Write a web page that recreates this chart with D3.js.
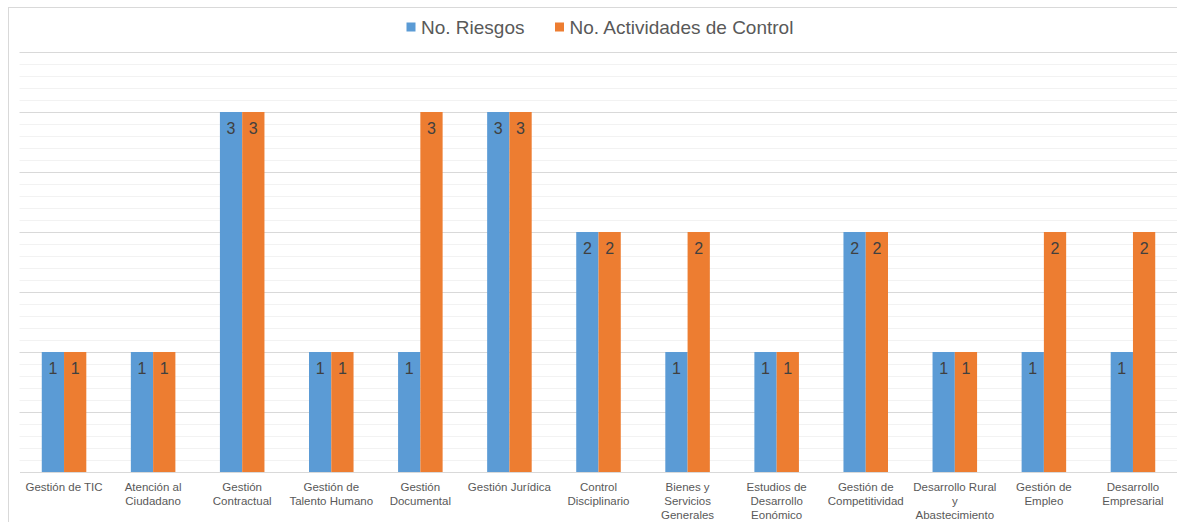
<!DOCTYPE html>
<html>
<head>
<meta charset="utf-8">
<script src="https://cdn.jsdelivr.net/npm/d3@7"></script>
<style>
  body { margin: 0; background: #fff; }
  text { font-family: "Liberation Sans", Arial, sans-serif; }
</style>
</head>
<body>
<script>
// categories (| marks a line break as in the original labels)
let categories = [
  "Gestión de TIC", "Atención al|Ciudadano", "Gestión|Contractual",
  "Gestión de|Talento Humano", "Gestión|Documental", "Gestión Jurídica",
  "Control|Disciplinario", "Bienes y|Servicios|Generales",
  "Estudios de|Desarrollo|Eonómico", "Gestión de|Competitividad",
  "Desarrollo Rural|y|Abastecimiento", "Gestión de|Empleo", "Desarrollo|Empresarial"
];
let seriesNames = ["No. Riesgos", "No. Actividades de Control"];
let riesgos     = [1, 1, 3, 1, 1, 3, 2, 1, 1, 2, 1, 1, 1];
let actividades = [1, 1, 3, 1, 3, 3, 2, 2, 1, 2, 1, 2, 2];
let colors = ["#5b9bd5", "#ed7d31"];

let svgWidth = 1177;
let svgHeight = 522;
let margin = {top: 52, bottom: 50, left: 19.5, right: -0.5};

let svg = d3.select("body")
            .append("svg")
            .attr("width", svgWidth)
            .attr("height", svgHeight);

// chart frame (cut off at right and bottom like the screenshot)
svg.append("rect")
   .attr("x", 8.5).attr("y", 7.5)
   .attr("width", 1200).attr("height", 600)
   .attr("fill", "#fff")
   .attr("stroke", "#d9d9d9");

let x0 = d3.scaleBand()
  .domain(categories)
  .range([margin.left, svgWidth - margin.right]);
let x1 = d3.scaleBand()
  .domain(seriesNames)
  .range([0, x0.bandwidth()])
  .paddingOuter(1);
let y = d3.scaleLinear()
  .domain([0, 3.5])
  .range([svgHeight - margin.bottom, margin.top]);

// minor gridlines
let minor = d3.range(1, 35).filter(i => i % 5 != 0).map(i => i / 10);
svg.append("g")
   .attr("transform", "translate(" + margin.left + ",0)")
   .call(d3.axisLeft(y).tickValues(minor).tickSize(-(svgWidth - margin.left)).tickFormat(""))
   .call(g => g.select(".domain").remove())
   .call(g => g.selectAll(".tick line").attr("stroke", "#f2f2f2"));
// major gridlines
svg.append("g")
   .attr("transform", "translate(" + margin.left + ",0)")
   .call(d3.axisLeft(y).tickValues([0.5, 1, 1.5, 2, 2.5, 3, 3.5]).tickSize(-(svgWidth - margin.left)).tickFormat(""))
   .call(g => g.select(".domain").remove())
   .call(g => g.selectAll(".tick line").attr("stroke", "#d9d9d9"));

// bars
let rows = categories.map((c, i) => ({cat: c, vals: [riesgos[i], actividades[i]]}));
let groups = svg.selectAll("g.cat")
  .data(rows)
  .enter()
  .append("g")
    .attr("class", "cat")
    .attr("transform", d => "translate(" + x0(d.cat) + ",0)");

groups.selectAll("rect")
  .data(d => d.vals.map((v, k) => ({s: seriesNames[k], v: v, k: k})))
  .enter()
  .append("rect")
    .attr("x", d => x1(d.s))
    .attr("y", d => y(d.v))
    .attr("width", x1.bandwidth())
    .attr("height", d => y(0) - y(d.v))
    .attr("fill", d => colors[d.k]);

groups.selectAll("text.val")
  .data(d => d.vals.map((v, k) => ({s: seriesNames[k], v: v, k: k})))
  .enter()
  .append("text")
    .attr("class", "val")
    .attr("x", d => x1(d.s) + x1.bandwidth() / 2)
    .attr("y", d => y(d.v) + 22)
    .attr("text-anchor", "middle")
    .style("font-size", "16px")
    .style("fill", "#404040")
    .text(d => d.v);

// category axis
let xAxis = svg.append("g")
   .attr("transform", "translate(0," + y(0) + ")")
   .call(d3.axisBottom(x0).tickSize(0).tickFormat(""));
xAxis.select(".domain").attr("stroke", "#d9d9d9");

let labels = svg.selectAll("text.cat")
  .data(categories)
  .enter()
  .append("text")
    .attr("class", "cat")
    .attr("x", d => x0(d) + x0.bandwidth() / 2)
    .attr("y", y(0) + 18.5)
    .attr("text-anchor", "middle")
    .style("font-size", "11.5px")
    .style("fill", "#595959");
labels.each(function (d) {
  let t = d3.select(this);
  d.split("|").forEach((line, i) => {
    t.append("tspan")
     .attr("x", x0(d) + x0.bandwidth() / 2)
     .attr("dy", i == 0 ? 0 : 14)
     .text(line);
  });
});

// legend
let legendX = [406.5, 555];
let legend = svg.selectAll("g.legend")
  .data(seriesNames)
  .enter()
  .append("g")
    .attr("class", "legend")
    .attr("transform", (d, i) => "translate(" + legendX[i] + ",0)");
legend.append("rect")
  .attr("x", 0).attr("y", 22.5)
  .attr("width", 9).attr("height", 9)
  .attr("fill", (d, i) => colors[i]);
legend.append("text")
  .attr("x", 14.5).attr("y", 33.5)
  .style("font-size", "19px")
  .style("fill", "#595959")
  .text(d => d);
</script>
</body>
</html>
